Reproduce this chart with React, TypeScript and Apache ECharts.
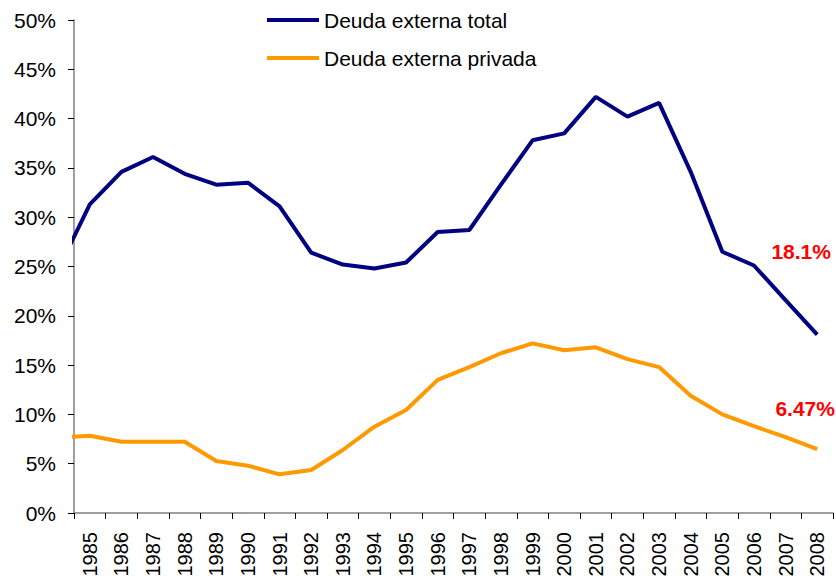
import React, { useEffect, useRef } from "react";
import * as echarts from "echarts";

// Category labels shown on the x axis
const categories: string[] = [
  "1985", "1986", "1987", "1988", "1989", "1990", "1991", "1992", "1993", "1994",
  "1995", "1996", "1997", "1998", "1999", "2000", "2001", "2002", "2003", "2004",
  "2005", "2006", "2007", "2008",
];

// Years of the series (1984 lies just outside the plot and is clipped)
const years: number[] = [
  1984, 1985, 1986, 1987, 1988, 1989, 1990, 1991, 1992, 1993, 1994, 1995, 1996,
  1997, 1998, 1999, 2000, 2001, 2002, 2003, 2004, 2005, 2006, 2007, 2008,
];

// Deuda externa total (%)
const deudaTotal: number[] = [
  24.7, 31.3, 34.6, 36.1, 34.4, 33.3, 33.5, 31.1, 26.4, 25.2, 24.8, 25.4, 28.5,
  28.7, 33.3, 37.8, 38.5, 42.2, 40.2, 41.6, 34.6, 26.5, 25.1, 21.6, 18.1,
];

// Deuda externa privada (%)
const deudaPrivada: number[] = [
  7.64, 7.84, 7.23, 7.23, 7.23, 5.27, 4.8, 3.92, 4.36, 6.39, 8.75, 10.45, 13.5,
  14.8, 16.2, 17.2, 16.5, 16.8, 15.6, 14.8, 11.9, 10.0, 8.8, 7.7, 6.47,
];

const seriesNames: string[] = ["Deuda externa total", "Deuda externa privada"];
const endLabels: string[] = ["18.1%", "6.47%"];

const FONT = "'Liberation Sans', Arial, sans-serif";

function buildData(values: number[], endLabel: string, offset: [number, number]) {
  const last = values.length - 1;
  return values.map((v, i) => {
    if (i !== last) return [years[i], v / 100];
    return {
      value: [years[i], v / 100],
      label: {
        show: true,
        position: "top",
        offset,
        formatter: () => endLabel,
        color: "#FF0000",
        fontWeight: "bold",
        fontSize: 21,
        fontFamily: FONT,
      },
    };
  });
}

export default function App() {
  const ref = useRef<HTMLDivElement>(null);

  useEffect(() => {
    if (!ref.current) return;
    const chart = echarts.init(ref.current, null, { renderer: "svg" });
    chart.setOption({
      animation: false,
      backgroundColor: "#FFFFFF",
      textStyle: { fontFamily: FONT },
      grid: {
        left: 74,
        right: 3,
        top: 20,
        bottom: 69,
        containLabel: false,
        outerBoundsMode: "none",
      },
      legend: {
        orient: "vertical",
        left: 267,
        top: 9,
        padding: 0,
        icon: "rect",
        itemWidth: 52,
        itemHeight: 4,
        itemGap: 16,
        data: seriesNames,
        textStyle: { fontSize: 21, color: "#000", fontFamily: FONT, lineHeight: 22 },
      },
      xAxis: [
        {
          type: "category",
          data: categories,
          boundaryGap: true,
          axisLine: { lineStyle: { color: "#808080", width: 1.5 } },
          axisTick: {
            show: true,
            alignWithLabel: false,
            interval: 0,
            length: 6,
            lineStyle: { color: "#000" },
          },
          axisLabel: {
            interval: 0,
            rotate: 90,
            margin: 19,
            fontSize: 20,
            color: "#000",
            fontFamily: FONT,
          },
          splitLine: { show: false },
        },
        {
          type: "value",
          min: 1984.5,
          max: 2008.5,
          show: false,
          splitLine: { show: false },
        },
      ],
      yAxis: {
        type: "value",
        min: 0,
        max: 0.5,
        interval: 0.05,
        axisLine: { show: true, lineStyle: { color: "#808080", width: 1.5 } },
        axisTick: { show: true, length: 6, lineStyle: { color: "#000" } },
        axisLabel: {
          fontSize: 21,
          color: "#000",
          margin: 18,
          fontFamily: FONT,
          formatter: (v: number) => `${Math.round(v * 100)}%`,
        },
        splitLine: { show: false },
      },
      series: [
        {
          name: seriesNames[0],
          type: "line",
          xAxisIndex: 1,
          symbol: "circle",
          symbolSize: 0,
          showSymbol: true,
          clip: true,
          lineStyle: { color: "#000080", width: 4 },
          itemStyle: { color: "#000080" },
          data: buildData(deudaTotal, endLabels[0], [-16, -68]),
        },
        {
          name: seriesNames[1],
          type: "line",
          xAxisIndex: 1,
          symbol: "circle",
          symbolSize: 0,
          showSymbol: true,
          clip: true,
          lineStyle: { color: "#FF9900", width: 4 },
          itemStyle: { color: "#FF9900" },
          data: buildData(deudaPrivada, endLabels[1], [-12, -25]),
        },
      ],
    });
    return () => chart.dispose();
  }, []);

  return (
    <div
      ref={ref}
      style={{ position: "absolute", left: 0, top: 0, width: 836, height: 582 }}
    />
  );
}
